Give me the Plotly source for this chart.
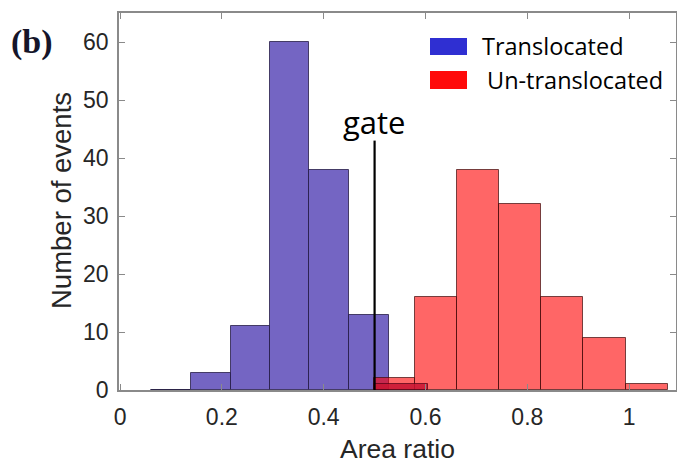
import plotly.graph_objects as go

# ---- data ----
blue_edges = [0.061, 0.139, 0.217, 0.294, 0.372, 0.450, 0.528]
blue_counts = [0, 3, 11, 60, 38, 13]

red_edges = [0.499, 0.580, 0.661, 0.744, 0.827, 0.910, 0.993, 1.076]
red_counts = [2, 16, 38, 32, 16, 9, 1]

extra_edges = [0.499, 0.605]
extra_counts = [1]

gate_x = 0.5
gate_top = 43

x_ticks = [0, 0.2, 0.4, 0.6, 0.8, 1.0]
x_tick_labels = ["0", "0.2", "0.4", "0.6", "0.8", "1"]
y_ticks = [0, 10, 20, 30, 40, 50, 60]
y_tick_labels = ["0", "10", "20", "30", "40", "50", "60"]

series_names = ["Translocated", "Un-translocated"]

W, H = 677, 463
ML, MR, MT, MB = 119, 1, 13, 73
PW, PH = W - ML - MR, H - MT - MB


def px2paper_x(px):
    return (px - ML) / PW


def px2paper_y(py):
    return (H - MB - py) / PH


def bars(edges, counts):
    centers = [(a + b) / 2 for a, b in zip(edges[:-1], edges[1:])]
    widths = [b - a for a, b in zip(edges[:-1], edges[1:])]
    return centers, widths, counts


fig = go.Figure()

c, w, v = bars(blue_edges, blue_counts)
fig.add_trace(go.Bar(x=c, y=v, width=w, name=series_names[0],
                     marker=dict(color="#7465c3",
                                 line=dict(color="rgba(30,20,60,0.75)", width=1)),
                     showlegend=False))
c, w, v = bars(red_edges, red_counts)
fig.add_trace(go.Bar(x=c, y=v, width=w, name=series_names[1],
                     marker=dict(color="rgba(255,0,0,0.6)",
                                 line=dict(color="rgba(60,10,10,0.7)", width=1)),
                     showlegend=False))
c, w, v = bars(extra_edges, extra_counts)
fig.add_trace(go.Bar(x=c, y=v, width=w, name="",
                     marker=dict(color="rgba(200,20,50,0.85)",
                                 line=dict(color="rgba(80,0,20,0.7)", width=1)),
                     showlegend=False))

# gate line
fig.add_trace(go.Scatter(x=[gate_x, gate_x], y=[0, gate_top], mode="lines",
                         line=dict(color="black", width=2.2), showlegend=False,
                         hoverinfo="skip"))

fig.update_layout(
    width=W, height=H,
    margin=dict(l=ML, r=MR, t=MT, b=MB, autoexpand=False),
    plot_bgcolor="white", paper_bgcolor="white",
    barmode="overlay", bargap=0,
    font=dict(family="Liberation Sans, Arial, sans-serif", size=23, color="#262626"),
)

axis_common = dict(showgrid=False, zeroline=False, showline=True,
                   linecolor="#8a8a8a", linewidth=1.5, mirror="ticks",
                   ticks="inside", ticklen=6, tickwidth=1, tickcolor="#8a8a8a",
                   automargin=False,
                   tickfont=dict(family="Liberation Sans, Arial, sans-serif",
                                 size=23, color="#262626"))

fig.update_xaxes(range=[-0.002, 1.092], tickvals=x_ticks, ticktext=x_tick_labels,
                 ticklabelstandoff=6, **axis_common)
fig.update_yaxes(range=[0, 65], tickvals=y_ticks, ticktext=y_tick_labels,
                 ticklabelstandoff=4, **axis_common)

anns = []
# axis titles
anns.append(dict(text="Area ratio", xref="paper", yref="paper",
                 x=0.5, y=px2paper_y(449), xanchor="center", yanchor="middle",
                 showarrow=False, font=dict(family="Liberation Sans, Arial", size=26.5,
                                            color="#262626")))
anns.append(dict(text="Number of events", xref="paper", yref="paper",
                 x=px2paper_x(61), y=px2paper_y(201), xanchor="center",
                 yanchor="middle", textangle=-90, showarrow=False,
                 font=dict(family="Liberation Sans, Arial", size=27.5, color="#262626")))
# gate label
anns.append(dict(text="gate", x=gate_x, y=gate_top, xref="x", yref="y",
                 xanchor="center", yanchor="bottom", showarrow=False, yshift=-4,
                 font=dict(family="Open Sans, sans-serif", size=31, color="black")))
# panel label
anns.append(dict(text="<b>(b)</b>", xref="paper", yref="paper",
                 x=px2paper_x(9), y=px2paper_y(42), xanchor="left", yanchor="middle",
                 showarrow=False,
                 font=dict(family="Liberation Serif, Times New Roman, serif", size=34,
                           color="#15152a")))

# manual legend
legend_colors = ["#2f2fd2", "#ff0a0a"]
swatch_y = [(38, 55), (71, 89)]
text_x = [480, 485]
text_y = [46, 80]
shapes = []
for name, col, (y0, y1), tx, ty in zip(series_names, legend_colors, swatch_y, text_x, text_y):
    shapes.append(dict(type="rect", xref="paper", yref="paper",
                       x0=px2paper_x(430), x1=px2paper_x(467),
                       y0=px2paper_y(y1), y1=px2paper_y(y0),
                       fillcolor=col, line=dict(width=0)))
    anns.append(dict(text=name, xref="paper", yref="paper",
                     x=px2paper_x(tx), y=px2paper_y(ty), xanchor="left",
                     yanchor="middle", showarrow=False,
                     font=dict(family="Open Sans, sans-serif", size=23.5, color="black")))

fig.update_layout(annotations=anns, shapes=shapes)

fig.write_html("out.html", config={"displayModeBar": False},
               post_script="document.body.style.margin='0';document.body.style.padding='0';")
